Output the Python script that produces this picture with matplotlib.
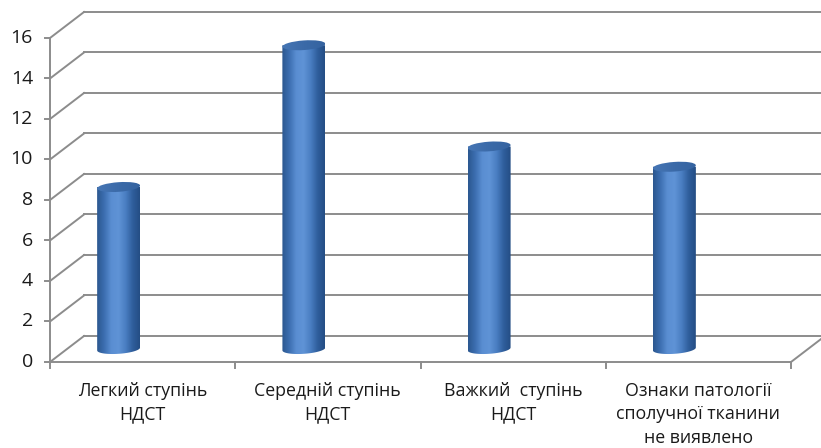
import numpy as np
import matplotlib
matplotlib.use("Agg")
import matplotlib.pyplot as plt
from matplotlib.patches import Ellipse, PathPatch
from matplotlib.path import Path
from matplotlib.colors import LinearSegmentedColormap

categories = ["Легкий ступінь\nНДСТ", "Середній ступінь\nНДСТ",
              "Важкий  ступінь\nНДСТ", "Ознаки патології\nсполучної тканини\nне виявлено"]
values = [8, 15, 10, 9]
y_ticks = [0, 2, 4, 6, 8, 10, 12, 14, 16]

# pseudo-3d layout, in pixels
X0, Y0 = 50, 362          # front-left corner of the floor
UNIT = 20.25              # pixels per value unit
CAT_W = 185.25            # width of one category on the front edge
DX, DY = 34, -26          # depth offset to the back wall
CYL_SHIFT = -24           # cylinder centre relative to category centre
CYL_R, CYL_E = 21.5, 4.8  # cylinder half width / ellipse half height
BASE_Y = 349              # centre of cylinder base
GRID = "#8c8c8c"

plt.rcParams["font.family"] = ["Open Sans", "DejaVu Sans"]

fig = plt.figure(figsize=(8.21, 4.48), dpi=100)
ax = fig.add_axes([0, 0, 1, 1])
ax.set_xlim(0, 821)
ax.set_ylim(448, 0)
ax.axis("off")

n = len(categories)
x_end = X0 + n * CAT_W

def yv(v):
    return Y0 - v * UNIT

# back wall gridlines + diagonals to the front axis
for t in y_ticks:
    ax.plot([X0, X0 + DX], [yv(t), yv(t) + DY], color=GRID, lw=1.4)
    ax.plot([X0 + DX, 830], [yv(t) + DY, yv(t) + DY], color=GRID, lw=1.4)
    ax.plot([X0 - 5, X0], [yv(t), yv(t)], color=GRID, lw=1.4)
    ax.text(X0 - 17, yv(t), str(t), ha="right", va="center", fontsize=14, color="#1a1a1a")

# front axis and floor edge
ax.plot([X0, X0], [yv(0), yv(y_ticks[-1])], color=GRID, lw=1.4)
ax.plot([X0, x_end], [Y0, Y0], color=GRID, lw=1.4)
ax.plot([x_end, x_end + DX], [Y0, Y0 + DY], color=GRID, lw=1.4)
for i in range(n + 1):
    ax.plot([X0 + i * CAT_W] * 2, [Y0, Y0 + 6], color=GRID, lw=1.4)

side = LinearSegmentedColormap.from_list(
    "side", ["#2b578f", "#3c6eb0", "#5a8ed2", "#5f93d6", "#4a7ec2", "#2f5e9c", "#244d84"])
topc = LinearSegmentedColormap.from_list("top", ["#4676b5", "#3b6aa8", "#3563a0"])
grad = np.linspace(0, 1, 256).reshape(1, -1)
tilt = -4

for i, v in enumerate(values):
    cx = X0 + (i + 0.5) * CAT_W + CYL_SHIFT
    top = BASE_Y - v * UNIT
    # body: straight sides with a rounded bottom
    th = np.linspace(np.pi, 0, 40)
    ang = np.deg2rad(tilt)
    ex = CYL_R * np.cos(th)
    ey = CYL_E * np.sin(th)
    bx = cx + ex * np.cos(ang) - ey * np.sin(ang)
    by = BASE_Y + ex * np.sin(ang) + ey * np.cos(ang)
    verts = [(cx - CYL_R, top)] + list(zip(bx, by)) + \
            [(cx + CYL_R, top), (cx - CYL_R, top)]
    body = PathPatch(Path(verts), facecolor="none", edgecolor="none")
    ax.add_patch(body)
    im = ax.imshow(grad, cmap=side, aspect="auto",
                   extent=[cx - CYL_R, cx + CYL_R, BASE_Y + CYL_E + 3, top], zorder=3)
    im.set_clip_path(body)
    # top cap
    cap = Ellipse((cx, top), 2 * CYL_R, 2 * CYL_E, angle=tilt,
                  facecolor="none", edgecolor="none", zorder=4)
    ax.add_patch(cap)
    im2 = ax.imshow(grad, cmap=topc, aspect="auto",
                    extent=[cx - CYL_R, cx + CYL_R, top + CYL_E + 2, top - CYL_E - 2], zorder=4)
    im2.set_clip_path(cap)

    # category label
    ax.text(X0 + (i + 0.5) * CAT_W, 381.5, categories[i], ha="center", va="top",
            fontsize=12.8, color="#1a1a1a", linespacing=1.42)

fig.savefig("out.png", dpi=100)
